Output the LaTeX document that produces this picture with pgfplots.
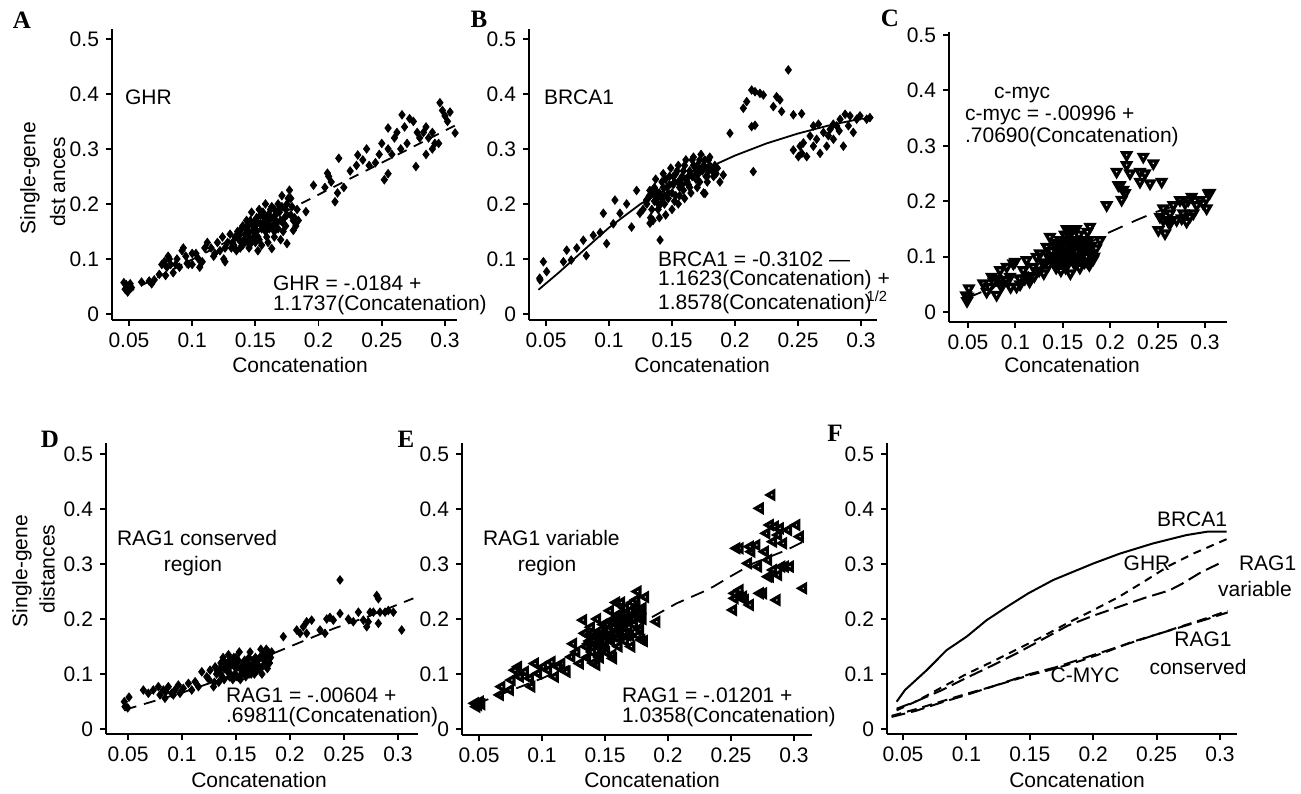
\documentclass[border=0pt]{standalone}
\usepackage{fontspec}
\setmainfont{Liberation Sans}
\newfontfamily\timesfont{Liberation Serif}
\usepackage{pgfplots}
\pgfplotsset{compat=1.18}
\pgfplotsset{
 panel/.style={
  scale only axis,
  axis lines=left,
  axis line style={-, line width=0.9pt},
  tick align=outside,
  major tick length=3pt,
  every tick/.style={black, line width=0.9pt},
  xtick={0.05,0.1,0.15,0.2,0.25,0.3},
  xticklabels={0.05,0.1,0.15,0.2,0.25,0.3},
  ytick={0,0.1,0.2,0.3,0.4,0.5},
  yticklabels={0,0.1,0.2,0.3,0.4,0.5},
  tick label style={font=\fontsize{10.5}{12.6}\selectfont},
  clip=false,
  anchor=south west,
 },
 dots/.style={only marks, mark=diamond*, mark size=2.1pt, black},
}
\newcommand{\plab}[1]{{\fontsize{12.5}{14}\timesfont\bfseries #1}}
\begin{document}
\begin{tikzpicture}[font=\fontsize{10.5}{12.6}\selectfont]
\useasboundingbox (0,0) rectangle (650.5pt,396.5pt);
% ---------------- A ----------------
\begin{axis}[panel, at={(56pt,236.5pt)}, width=172.5pt, height=145.5pt,
  xmin=0.0366, xmax=0.3095, ymin=-0.0109, ymax=0.518]
\addplot[dots] coordinates {
(0.046,0.057)(0.048,0.053)(0.050,0.050)(0.047,0.045)(0.052,0.048)(0.049,0.040)(0.051,0.055)
(0.060,0.058)(0.066,0.060)(0.068,0.055)(0.070,0.062)(0.074,0.072)(0.076,0.090)(0.078,0.095)
(0.080,0.085)(0.082,0.100)(0.083,0.090)(0.085,0.075)(0.087,0.090)(0.088,0.100)(0.090,0.085)
(0.079,0.070)(0.081,0.105)(0.092,0.115)(0.093,0.120)(0.095,0.105)(0.097,0.090)(0.100,0.090)
(0.096,0.092)(0.103,0.110)(0.105,0.100)(0.108,0.095)(0.110,0.120)(0.112,0.130)(0.100,0.110)
(0.106,0.085)(0.115,0.120)(0.118,0.110)(0.120,0.130)(0.122,0.115)(0.124,0.140)(0.126,0.120)
(0.128,0.130)(0.130,0.145)(0.117,0.105)(0.125,0.100)(0.126,0.095)
(0.132,0.130)(0.134,0.140)(0.136,0.150)(0.138,0.120)(0.140,0.160)(0.142,0.145)(0.144,0.130)
(0.146,0.170)(0.148,0.150)(0.150,0.160)(0.152,0.140)(0.154,0.180)(0.156,0.165)(0.158,0.150)
(0.160,0.170)(0.162,0.190)(0.164,0.160)(0.166,0.180)(0.168,0.200)(0.170,0.170)(0.172,0.150)
(0.174,0.190)(0.176,0.210)(0.178,0.180)(0.180,0.170)(0.182,0.160)(0.135,0.115)(0.140,0.125)
(0.145,0.120)(0.150,0.130)(0.155,0.125)(0.160,0.130)(0.165,0.140)(0.170,0.135)(0.143,0.170)
(0.147,0.185)(0.153,0.190)(0.158,0.200)(0.163,0.195)(0.171,0.215)(0.177,0.225)(0.175,0.200)
(0.179,0.195)(0.183,0.190)(0.137,0.135)(0.149,0.140)(0.157,0.175)(0.167,0.165)(0.173,0.175)
(0.139,0.155)(0.151,0.175)(0.161,0.155)(0.169,0.185)(0.131,0.120)(0.141,0.135)(0.159,0.140)
(0.163,0.119)(0.152,0.115)(0.180,0.152)(0.175,0.128)(0.155,0.155)(0.165,0.150)(0.145,0.150)
(0.133,0.125)(0.136,0.140)(0.139,0.130)(0.142,0.155)(0.145,0.140)(0.148,0.160)(0.151,0.150)
(0.154,0.165)(0.157,0.160)(0.160,0.180)(0.163,0.175)(0.166,0.170)(0.169,0.190)(0.172,0.165)
(0.175,0.180)(0.178,0.210)(0.181,0.175)(0.184,0.170)(0.138,0.145)(0.144,0.160)(0.150,0.170)
(0.156,0.185)(0.162,0.160)(0.168,0.155)(0.174,0.160)(0.147,0.130)(0.153,0.135)(0.159,0.160)
(0.165,0.190)(0.171,0.195)
(0.190,0.186)(0.196,0.234)(0.205,0.230)(0.210,0.240)(0.208,0.250)(0.213,0.204)(0.215,0.220)
(0.220,0.230)(0.207,0.256)(0.216,0.283)(0.225,0.260)(0.230,0.270)(0.231,0.289)(0.235,0.280)
(0.240,0.270)(0.245,0.275)(0.248,0.290)(0.250,0.310)(0.238,0.300)(0.252,0.244)(0.255,0.255)
(0.258,0.290)(0.255,0.300)(0.260,0.320)(0.262,0.330)(0.265,0.300)(0.268,0.340)(0.270,0.310)
(0.272,0.355)(0.275,0.350)(0.278,0.330)(0.266,0.362)(0.255,0.338)(0.277,0.268)(0.280,0.320)
(0.283,0.330)(0.285,0.340)(0.287,0.320)(0.290,0.330)(0.292,0.310)(0.296,0.384)(0.298,0.370)
(0.300,0.360)(0.304,0.367)(0.302,0.350)(0.308,0.329)(0.290,0.300)(0.295,0.310)(0.285,0.290)
};
\addplot[black, line width=0.9pt, dash pattern=on 5pt off 4pt] coordinates {
(0.047,0.037)(0.1,0.099)(0.15,0.158)(0.2,0.217)(0.25,0.275)(0.31,0.345)};
\end{axis}
% ---------------- B ----------------
\begin{axis}[panel, at={(264.5pt,236.5pt)}, width=174pt, height=145.5pt,
  xmin=0.0365, xmax=0.3127, ymin=-0.0109, ymax=0.518]
\addplot[dots] coordinates {
(0.0452,0.062)(0.0479,0.095)(0.0505,0.077)(0.045,0.065)(0.0664,0.116)(0.0638,0.095)
(0.070,0.098)(0.0744,0.120)(0.0796,0.134)(0.082,0.106)(0.0875,0.143)(0.093,0.148)
(0.0955,0.183)(0.0981,0.128)(0.1034,0.164)(0.1047,0.207)(0.1087,0.183)(0.114,0.200)
(0.1179,0.158)(0.1219,0.2245)(0.1245,0.183)(0.1298,0.207)(0.1324,0.2245)(0.1325,0.165)
(0.130,0.200)(0.132,0.215)(0.134,0.190)(0.136,0.230)(0.138,0.210)(0.140,0.220)(0.142,0.240)
(0.144,0.200)(0.146,0.230)(0.148,0.250)(0.150,0.220)(0.152,0.240)(0.154,0.260)(0.156,0.230)
(0.158,0.250)(0.160,0.270)(0.162,0.240)(0.164,0.260)(0.166,0.280)(0.168,0.250)(0.170,0.270)
(0.172,0.240)(0.174,0.260)(0.176,0.280)(0.178,0.250)(0.180,0.270)(0.182,0.260)(0.135,0.170)
(0.140,0.175)(0.145,0.180)(0.150,0.190)(0.155,0.200)(0.160,0.210)(0.165,0.220)(0.170,0.230)
(0.175,0.220)(0.178,0.240)(0.137,0.245)(0.143,0.255)(0.149,0.265)(0.155,0.270)(0.161,0.280)
(0.167,0.285)(0.173,0.290)(0.179,0.280)(0.141,0.200)(0.147,0.210)(0.153,0.215)(0.159,0.225)
(0.163,0.235)(0.169,0.245)(0.133,0.175)(0.139,0.190)(0.151,0.235)(0.157,0.245)(0.171,0.255)
(0.177,0.265)(0.185,0.255)(0.188,0.240)(0.184,0.270)(0.1762,0.219)(0.1405,0.1345)
(0.127,0.190)(0.144,0.215)(0.158,0.235)(0.166,0.250)(0.152,0.205)(0.136,0.205)
(0.131,0.210)(0.135,0.220)(0.139,0.200)(0.143,0.230)(0.147,0.220)(0.151,0.250)(0.155,0.240)
(0.159,0.260)(0.163,0.250)(0.167,0.270)(0.171,0.265)(0.175,0.270)(0.179,0.260)(0.183,0.250)
(0.137,0.225)(0.145,0.245)(0.153,0.255)(0.161,0.245)(0.169,0.260)(0.177,0.250)(0.142,0.210)
(0.148,0.235)(0.156,0.215)(0.164,0.230)(0.172,0.280)(0.180,0.285)(0.186,0.265)
(0.1907,0.2527)(0.196,0.3285)(0.2066,0.374)(0.2093,0.386)(0.2132,0.407)(0.2159,0.404)
(0.2198,0.401)(0.2225,0.398)(0.2132,0.3406)(0.2159,0.343)(0.2145,0.2588)(0.2304,0.377)
(0.233,0.395)(0.2357,0.389)(0.237,0.368)(0.2423,0.4436)(0.2463,0.362)(0.2529,0.364)
(0.2463,0.298)(0.2516,0.305)(0.2569,0.286)(0.253,0.292)(0.2622,0.305)(0.2675,0.292)
(0.2728,0.305)(0.2596,0.3236)(0.2648,0.3176)(0.2702,0.330)(0.2622,0.3418)(0.2755,0.3357)
(0.2781,0.3176)(0.2807,0.3418)(0.2834,0.3539)(0.286,0.305)(0.2874,0.363)(0.2913,0.360)
(0.2939,0.330)(0.2966,0.354)(0.2992,0.360)(0.3045,0.354)(0.3071,0.357)(0.290,0.342)
(0.2827,0.333)(0.2741,0.324)(0.2543,0.311)(0.2503,0.286)(0.2662,0.345)(0.278,0.345)
};
\addplot[black, line width=0.9pt] coordinates {
(0.044,0.044)(0.06,0.075)(0.08,0.116)(0.1,0.157)(0.125,0.2)(0.15,0.233)(0.175,0.262)
(0.2,0.288)(0.225,0.31)(0.25,0.328)(0.275,0.343)(0.3,0.355)(0.307,0.355)};
\end{axis}
% ---------------- C ----------------
\begin{axis}[panel, at={(474.5pt,235.5pt)}, width=139pt, height=145pt,
  xmin=0.030, xmax=0.3232, ymin=-0.018, ymax=0.5054]
\addplot[only marks, mark=triangle, mark size=2.3pt, black,
  mark options={rotate=180, fill=white, line width=1.6pt}] coordinates {
(0.049,0.020)(0.050,0.028)(0.051,0.043)(0.048,0.030)(0.0662,0.0518)(0.0697,0.0367)
(0.0802,0.031)(0.075,0.0638)(0.0838,0.0758)(0.0873,0.0518)(0.0908,0.0818)(0.0943,0.0638)
(0.0978,0.0878)(0.1013,0.0458)(0.0996,0.0908)(0.1048,0.0608)(0.1083,0.0758)(0.1118,0.0938)
(0.1154,0.0638)(0.1189,0.0818)(0.1224,0.0998)(0.1259,0.1058)(0.1294,0.0878)(0.1329,0.1178)
(0.1364,0.1359)(0.1382,0.0998)(0.140,0.090)(0.142,0.120)(0.145,0.100)(0.147,0.130)
(0.150,0.110)(0.152,0.140)(0.155,0.090)(0.157,0.120)(0.160,0.100)(0.162,0.130)(0.165,0.110)
(0.167,0.140)(0.170,0.090)(0.172,0.120)(0.175,0.100)(0.177,0.130)(0.180,0.105)(0.182,0.095)
(0.185,0.115)(0.143,0.080)(0.148,0.075)(0.153,0.080)(0.158,0.070)(0.163,0.085)(0.168,0.080)
(0.173,0.090)(0.178,0.085)(0.144,0.110)(0.149,0.125)(0.154,0.150)(0.159,0.145)(0.164,0.150)
(0.169,0.125)(0.174,0.115)(0.151,0.095)(0.156,0.105)(0.161,0.115)(0.166,0.095)(0.171,0.105)
(0.176,0.145)(0.1787,0.154)(0.1892,0.130)(0.183,0.100)(0.130,0.070)(0.135,0.085)(0.125,0.075)
(0.120,0.065)(0.115,0.055)(0.110,0.060)(0.105,0.050)(0.095,0.045)(0.090,0.058)(0.085,0.047)
(0.080,0.060)(0.077,0.055)(0.073,0.045)(0.138,0.110)(0.146,0.090)(0.158,0.130)(0.168,0.115)
(0.141,0.100)(0.144,0.125)(0.147,0.110)(0.150,0.130)(0.153,0.120)(0.156,0.140)(0.159,0.115)
(0.162,0.120)(0.165,0.130)(0.168,0.100)(0.171,0.130)(0.174,0.125)(0.177,0.110)(0.180,0.120)
(0.146,0.100)(0.152,0.090)(0.158,0.100)(0.164,0.090)(0.170,0.110)(0.176,0.090)(0.135,0.100)
(0.132,0.090)
(0.1963,0.193)(0.2068,0.2533)(0.2086,0.229)(0.2103,0.229)(0.2121,0.2026)(0.2138,0.2207)
(0.2156,0.2147)(0.2173,0.2834)(0.2173,0.2653)(0.2209,0.2503)(0.2314,0.2533)(0.2314,0.2352)
(0.2349,0.2804)(0.2367,0.2503)(0.2455,0.2683)(0.242,0.2322)(0.2543,0.2352)
(0.2508,0.148)(0.2525,0.172)(0.256,0.1871)(0.2578,0.142)(0.2613,0.1631)(0.263,0.1781)
(0.2666,0.1931)(0.2701,0.1661)(0.2736,0.2022)(0.2771,0.1781)(0.2806,0.1631)(0.2824,0.2022)
(0.2859,0.2082)(0.2877,0.1781)(0.2912,0.1931)(0.2947,0.2022)(0.2982,0.1961)(0.3017,0.1871)
(0.3035,0.2142)(0.305,0.215)(0.256,0.1661)(0.263,0.160)(0.279,0.1961)(0.284,0.172)(0.2754,0.169)
};
\addplot[black, line width=0.9pt, dash pattern=on 8pt off 5pt] coordinates {
(0.0486,0.0247)(0.1,0.062)(0.15,0.098)(0.1928,0.139)(0.2279,0.166)(0.249,0.181)(0.2806,0.198)(0.305,0.217)};
\end{axis}
% ---------------- D ----------------
\begin{axis}[panel, at={(53pt,29.5pt)}, width=156pt, height=145.5pt,
  xmin=0.0296, xmax=0.3185, ymin=-0.009, ymax=0.52]
\addplot[dots] coordinates {
(0.0472,0.0406)(0.0509,0.058)(0.0466,0.0497)(0.0497,0.0385)(0.0642,0.0709)(0.0688,0.065)
(0.0734,0.071)(0.0781,0.077)(0.0796,0.062)(0.0827,0.071)(0.0842,0.056)(0.0873,0.077)
(0.0904,0.065)(0.0935,0.071)(0.0966,0.080)(0.0981,0.065)(0.1012,0.074)(0.1059,0.083)
(0.109,0.071)(0.1121,0.086)(0.1152,0.077)(0.1183,0.104)(0.1229,0.095)(0.126,0.107)
(0.1292,0.077)(0.1307,0.113)(0.132,0.100)(0.135,0.110)(0.137,0.095)(0.140,0.120)(0.142,0.105)
(0.145,0.115)(0.147,0.090)(0.150,0.110)(0.152,0.125)(0.155,0.100)(0.157,0.120)(0.160,0.105)
(0.162,0.130)(0.165,0.115)(0.167,0.100)(0.170,0.125)(0.172,0.110)(0.175,0.135)(0.177,0.120)
(0.180,0.140)(0.182,0.130)(0.134,0.085)(0.139,0.090)(0.144,0.095)(0.149,0.100)(0.154,0.090)
(0.159,0.095)(0.164,0.100)(0.169,0.105)(0.174,0.100)(0.179,0.110)(0.138,0.130)(0.143,0.135)
(0.148,0.130)(0.153,0.140)(0.158,0.125)(0.163,0.140)(0.168,0.130)(0.173,0.145)(0.178,0.145)
(0.183,0.140)(0.141,0.110)(0.146,0.125)(0.151,0.095)(0.156,0.115)(0.161,0.120)(0.166,0.110)
(0.171,0.115)(0.176,0.125)(0.136,0.120)(0.130,0.085)(0.125,0.090)(0.085,0.068)(0.092,0.062)
(0.133,0.105)(0.136,0.100)(0.139,0.110)(0.142,0.120)(0.145,0.100)(0.148,0.115)(0.151,0.120)
(0.154,0.110)(0.157,0.105)(0.160,0.115)(0.163,0.110)(0.166,0.125)(0.169,0.120)(0.172,0.130)
(0.175,0.115)(0.178,0.130)(0.181,0.120)(0.144,0.125)(0.150,0.130)(0.162,0.100)
(0.1938,0.168)(0.2062,0.180)(0.2093,0.174)(0.2123,0.186)(0.2154,0.195)(0.220,0.198)
(0.2154,0.174)(0.2278,0.180)(0.2324,0.174)(0.234,0.200)(0.237,0.203)(0.2401,0.198)
(0.2463,0.210)(0.2463,0.271)(0.254,0.200)(0.2586,0.195)(0.2633,0.2125)(0.2679,0.198)
(0.271,0.186)(0.2725,0.195)(0.2772,0.2125)(0.2803,0.2428)(0.2818,0.237)(0.2833,0.2125)
(0.288,0.2125)(0.291,0.2155)(0.2957,0.2125)(0.3034,0.180)(0.2818,0.192)(0.2741,0.2125)
};
\addplot[black, line width=0.9pt, dash pattern=on 6pt off 4pt] coordinates {
(0.047,0.035)(0.1,0.066)(0.15,0.1)(0.1846,0.1376)(0.2401,0.1824)(0.271,0.2036)(0.3142,0.2376)};
\end{axis}
% ---------------- E ----------------
\begin{axis}[panel, at={(231pt,29pt)}, width=175pt, height=146pt,
  xmin=0.0365, xmax=0.3143, ymin=-0.0109, ymax=0.52]
\addplot[only marks, mark=triangle, mark size=2.2pt, black,
  mark options={rotate=90, fill=white, line width=1.6pt}] coordinates {
(0.0468,0.0467)(0.0495,0.0436)(0.0508,0.0497)(0.0481,0.0406)(0.0521,0.045)(0.0667,0.062)
(0.068,0.077)(0.0747,0.071)(0.076,0.089)(0.0786,0.107)(0.0812,0.113)(0.0826,0.095)
(0.0865,0.104)(0.0905,0.092)(0.0918,0.077)(0.0945,0.119)(0.0971,0.101)(0.1011,0.113)
(0.1050,0.107)(0.1077,0.122)(0.1103,0.095)(0.1130,0.113)(0.1156,0.119)(0.1196,0.104)
(0.1235,0.131)(0.1249,0.155)(0.1275,0.140)(0.1302,0.119)(0.1328,0.198)(0.1341,0.174)
(0.135,0.150)(0.138,0.160)(0.140,0.140)(0.142,0.170)(0.145,0.150)(0.147,0.180)(0.150,0.160)
(0.152,0.190)(0.155,0.170)(0.157,0.200)(0.160,0.180)(0.162,0.210)(0.164,0.190)(0.166,0.220)
(0.168,0.200)(0.170,0.170)(0.172,0.230)(0.174,0.210)(0.176,0.250)(0.178,0.200)(0.180,0.220)
(0.182,0.240)(0.136,0.130)(0.141,0.120)(0.146,0.130)(0.151,0.140)(0.156,0.135)(0.161,0.150)
(0.166,0.160)(0.171,0.150)(0.176,0.170)(0.139,0.185)(0.144,0.200)(0.149,0.190)(0.154,0.215)
(0.159,0.230)(0.163,0.230)(0.167,0.210)(0.173,0.190)(0.178,0.180)(0.181,0.160)(0.143,0.155)
(0.153,0.165)(0.158,0.175)(0.165,0.175)(0.169,0.185)(0.137,0.170)(0.148,0.145)(0.175,0.235)
(0.179,0.215)(0.1566,0.1285)(0.160,0.200)(0.145,0.135)(0.1434,0.1164)(0.191,0.195)(0.1791,0.162)
(0.137,0.155)(0.141,0.160)(0.145,0.170)(0.149,0.175)(0.153,0.180)(0.157,0.185)(0.161,0.190)
(0.165,0.200)(0.169,0.200)(0.173,0.200)(0.177,0.210)(0.150,0.150)(0.155,0.160)(0.160,0.165)
(0.165,0.190)(0.170,0.215)(0.175,0.220)(0.180,0.200)(0.146,0.165)(0.156,0.195)(0.162,0.170)
(0.168,0.170)
(0.2518,0.2164)(0.2531,0.2467)(0.2531,0.2376)(0.2545,0.3285)(0.2571,0.3285)(0.2571,0.2527)
(0.2598,0.2406)(0.2611,0.2345)(0.2651,0.2255)(0.2637,0.3012)(0.2651,0.3315)(0.2664,0.3224)
(0.2704,0.3345)(0.2717,0.2952)(0.273,0.4012)(0.273,0.2467)(0.277,0.3224)(0.2783,0.3558)
(0.2796,0.3073)(0.2810,0.3709)(0.2810,0.2770)(0.2823,0.4255)(0.2836,0.3406)(0.2836,0.2891)
(0.2849,0.3679)(0.2863,0.2345)(0.2876,0.3527)(0.2876,0.280)(0.2889,0.3648)(0.2902,0.2952)
(0.2915,0.3376)(0.2929,0.2952)(0.2955,0.3618)(0.2968,0.2952)(0.3021,0.3709)(0.3048,0.3497)
(0.3074,0.2558)(0.2757,0.2467)(0.2796,0.2770)(0.2571,0.2406)
};
\addplot[black, line width=0.9pt, dash pattern=on 7pt off 4pt] coordinates {
(0.047,0.045)(0.1,0.092)(0.15,0.145)(0.1831,0.198)(0.2069,0.2285)(0.2281,0.2497)(0.236,0.2588)
(0.2493,0.277)(0.2677,0.3012)(0.2942,0.3255)(0.3074,0.3406)};
\end{axis}
% ---------------- F ----------------
\begin{axis}[panel, at={(443.5pt,29.5pt)}, width=175pt, height=145.5pt,
  xmin=0.0374, xmax=0.3134, ymin=-0.009, ymax=0.52]
\addplot[black, line width=1pt] coordinates {
(0.045,0.0497)(0.0516,0.071)(0.0687,0.107)(0.0845,0.1436)(0.1002,0.168)(0.116,0.198)
(0.1318,0.222)(0.1488,0.2467)(0.1685,0.271)(0.1843,0.286)(0.2001,0.301)(0.2211,0.319)
(0.2474,0.3376)(0.2737,0.3527)(0.29,0.3588)(0.3053,0.3588)};
\addplot[black, line width=1pt, dash pattern=on 4pt off 3pt] coordinates {
(0.045,0.034)(0.06,0.05)(0.08,0.075)(0.1,0.1)(0.12,0.122)(0.14,0.145)(0.16,0.168)(0.18,0.193)
(0.2,0.216)(0.22,0.24)(0.24,0.268)(0.26,0.297)(0.28,0.32)(0.307,0.347)};
\addplot[black, line width=1pt, dash pattern=on 7pt off 3pt] coordinates {
(0.045,0.037)(0.06,0.05)(0.08,0.07)(0.1,0.093)(0.12,0.115)(0.14,0.138)(0.16,0.163)(0.18,0.188)
(0.2,0.206)(0.22,0.222)(0.24,0.238)(0.26,0.252)(0.27,0.264)(0.285,0.285)(0.303,0.305)};
\addplot[black, line width=1pt, dash pattern=on 7pt off 3pt] coordinates {
(0.041,0.022)(0.06,0.033)(0.08,0.048)(0.1,0.062)(0.12,0.077)(0.15,0.1)(0.17,0.112)(0.19,0.127)
(0.21,0.142)(0.23,0.157)(0.25,0.172)(0.27,0.186)(0.29,0.2)(0.306,0.212)};
\addplot[black, line width=1pt, dash pattern=on 5pt off 3pt] coordinates {
(0.041,0.024)(0.06,0.036)(0.08,0.05)(0.1,0.064)(0.12,0.077)(0.15,0.098)(0.17,0.11)(0.19,0.124)
(0.21,0.14)(0.23,0.158)(0.25,0.172)(0.27,0.187)(0.29,0.202)(0.306,0.215)};
\end{axis}
% ---------------- texts ----------------
\node at (11pt,386.5pt) {\plab{A}};
\node at (239.5pt,387pt) {\plab{B}};
\node at (445pt,387.5pt) {\plab{C}};
\node at (25pt,177pt) {\plab{D}};
\node at (203pt,177pt) {\plab{E}};
\node at (417.5pt,180pt) {\plab{F}};
\node[rotate=90] at (15pt,307.5pt) {Single-gene};
\node[rotate=90] at (28.75pt,305.5pt) {dst ances};
\node[rotate=90] at (11pt,111pt) {Single-gene};
\node[rotate=90] at (23.5pt,112pt) {distances};
\node at (150pt,214pt) {Concatenation};
\node at (351pt,214pt) {Concatenation};
\node at (536pt,214pt) {Concatenation};
\node at (129.5pt,6.5pt) {Concatenation};
\node at (326pt,6.5pt) {Concatenation};
\node at (538.5pt,6.5pt) {Concatenation};
% A
\node[anchor=west] at (59pt,348pt) {GHR};
\node[anchor=west] at (133pt,255pt) {GHR = -.0184 +};
\node[anchor=west] at (133pt,244pt) {1.1737(Concatenation)};
% B
\node[anchor=west] at (325.5pt,267pt) {BRCA1 = -0.3102 ---};
\node[anchor=west] at (325.5pt,256.5pt) {1.1623(Concatenation) +};
\node[anchor=west] at (325.5pt,245.5pt) {1.8578(Concatenation)\kern-2.5pt\textsuperscript{1/2}};
\node[anchor=west] at (268.5pt,348pt) {BRCA1};
% C
\node at (511pt,349pt) {c-myc};
\node[anchor=west] at (479pt,339pt) {c-myc = -.00996 +};
\node[anchor=west] at (479pt,328pt) {.70690(Concatenation)};
% D
\node[anchor=west] at (55pt,127.5pt) {RAG1 conserved};
\node at (96.5pt,113.5pt) {region};
\node[anchor=west] at (109.5pt,49pt) {RAG1 = -.00604 +};
\node[anchor=west] at (109.5pt,38pt) {.69811(Concatenation)};
% E
\node[anchor=west] at (238pt,127.5pt) {RAG1 variable};
\node at (273.5pt,113.5pt) {region};
\node[anchor=west] at (307.5pt,49pt) {RAG1 = -.01201 +};
\node[anchor=west] at (307.5pt,38pt) {1.0358(Concatenation)};
% F
\node at (596pt,137pt) {BRCA1};
\node at (573.5pt,115pt) {GHR};
\node[anchor=west] at (616pt,115pt) {RAG1};
\node at (627.5pt,102pt) {variable};
\node at (601.5pt,77pt) {RAG1};
\node at (599pt,63pt) {conserved};
\node at (542.5pt,59pt) {C-MYC};
\end{tikzpicture}
\end{document}
